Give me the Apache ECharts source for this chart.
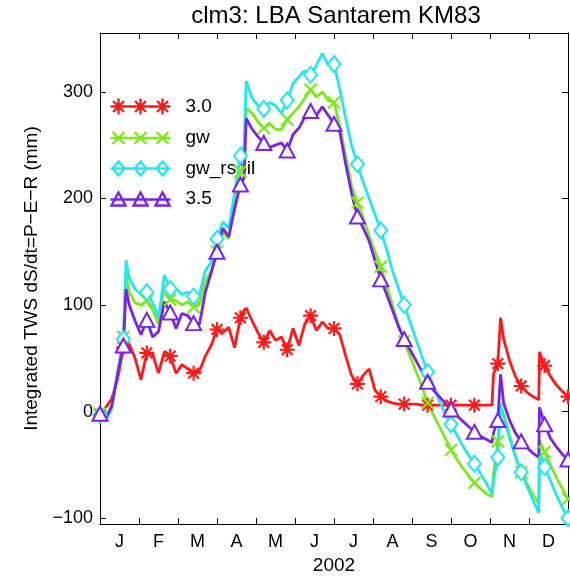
<!DOCTYPE html>
<html><head><meta charset="utf-8">
<script src="https://cdn.jsdelivr.net/npm/echarts@6/dist/echarts.min.js"></script>
<style>html,body{margin:0;padding:0;background:#fff}#c{width:570px;height:580px}</style>
</head><body><div id="c"></div>
<script>
// ---- data ----
const monthLabels = ['J','F','M','A','M','J','J','A','S','O','N','D'];
const yearLabel = '2002';
const seriesNames = ['3.0', 'gw', 'gw_rsoil', '3.5'];
// day of year for each sample (markers every 18.25 days)
const days = [0,4.5625,9.125,13.6875,18.25,20.3,22.8125,27.375,31.9375,36.5,41.0625,45.625,50.1875,54.75,59.3125,63.875,68.4375,73,77.5625,82.125,86.6875,91.25,95.8125,100.375,104.9375,109.5,112.3,114.0625,118.625,123.1875,127.75,132.3125,136.875,141.4375,146,150.5625,155.125,159.6875,164.25,168.8125,173.375,177.9375,182.5,187.0625,191.625,196.1875,200.75,205.3125,209.875,214.4375,219,223.5625,228.125,232.6875,237.25,241.8125,246.375,250.9375,255.5,260.0625,264.625,269.1875,273.75,278.3125,282.875,287.4375,292,296.5625,301.125,305.6875,306.9,310.25,312.4,314.8125,319.375,323.9375,328.5,333.0625,337.625,342.1875,342.8,346.75,351.3125,355.875,360.4375,365];
const v30 = [-3,4,12,30,60,70,63,50,30,55,54,36,56,52,36,44,40,36,38,52,62,77,74,79,60,88,95,97,85,74,65,76,67,70,58,78,62,82,90,76,84,78,78,72,52,34,26,34,40,20,14,10,8,7,7,7,7,6,6,6,6,6,6,6,6,6,6,6,6,6,35,45,88,68,48,33,24,18,14,11,56,43,33,25,19,14];
const vGw = [-2,-7,4,36,70,130,112,102,100,104,95,82,118,105,104,100,103,98,100,122,132,150,168,162,195,225,232,285,280,272,266,270,265,264,274,280,286,294,302,295,300,292,290,268,240,212,196,182,165,150,136,118,100,82,66,52,38,24,8,-3,-14,-25,-36,-45,-53,-60,-67,-72,-77,-80,-58,-28,5,-2,-22,-42,-57,-68,-78,-86,-27,-38,-50,-62,-72,-82];
const vGwRsoil = [-3,-9,3,35,68,142,125,115,110,112,102,88,128,115,115,110,112,108,110,132,140,162,178,172,205,240,248,310,294,287,284,290,287,280,292,308,314,320,316,325,336,325,326,302,275,250,232,215,200,185,170,152,132,116,100,84,68,52,37,24,10,-2,-12,-22,-32,-41,-49,-58,-67,-77,-65,-43,8,-5,-25,-42,-57,-70,-83,-95,-37,-52,-65,-78,-90,-100];
const v35 = [-2,-6,5,35,62,115,100,85,72,86,70,75,103,93,78,92,90,83,82,112,130,150,172,164,190,213,219,275,265,258,252,248,250,252,245,260,266,276,282,278,286,278,270,262,232,205,183,172,160,142,124,110,95,80,68,58,48,38,28,20,14,8,2,-4,-9,-14,-19,-23,-26,-29,-20,-8,35,8,-8,-20,-28,-34,-39,-43,4,-12,-25,-33,-40,-45];
const yMin = -105.6, yMax = 355.2;

// ---- styles ----
const colors = ['#ff1a1a', '#7ee81a', '#22e6f0', '#7a22e6'];
const FONT = 'Liberation Sans, Arial, Helvetica, sans-serif';
const markerSymbols = [
  'path://M0,-8L0,8M-8,0L8,0M-5.7,-5.7L5.7,5.7M-5.7,5.7L5.7,-5.7',
  'path://M-6,-6L6,6M-6,6L6,-6',
  'emptyDiamond',
  'emptyTriangle'
];
const markerSizes = [15, 12, [13, 16], [15, 14]];
const legendIcons = [
  'path://M0,8L60,8M8,0L8,16M2.5,2.5L13.5,13.5M2.5,13.5L13.5,2.5M30,0L30,16M24.5,2.5L35.5,13.5M24.5,13.5L35.5,2.5M52,0L52,16M46.5,2.5L57.5,13.5M46.5,13.5L57.5,2.5',
  'path://M0,8L60,8M2,2L14,14M2,14L14,2M24,2L36,14M24,14L36,2M46,2L58,14M46,14L58,2',
  'path://M0,8L60,8M8,1L14,8L8,15L2,8ZM30,1L36,8L30,15L24,8ZM52,1L58,8L52,15L46,8Z',
  'path://M0,8L60,8M8,1L15,14L1,14ZM30,1L37,14L23,14ZM52,1L59,14L45,14Z'
];
const allValues = [v30, vGw, vGwRsoil, v35];

function isMarker(d) {
  const k = d / 18.25;
  return Math.abs(k - Math.round(k)) < 1e-6;
}

const series = allValues.map((vals, si) => ({
  name: seriesNames[si],
  type: 'line',
  xAxisIndex: 0,
  yAxisIndex: 0,
  data: days.map((d, i) => [d, vals[i]]),
  showAllSymbol: true,
  symbol: (val) => isMarker(val[0]) ? markerSymbols[si] : 'none',
  symbolSize: markerSizes[si],
  lineStyle: { color: colors[si], width: 2.8 },
  itemStyle: { color: colors[si], borderColor: colors[si], borderWidth: 2.2 },
  silent: true,
  z: 3
}));

const chart = echarts.init(document.getElementById('c'), null, { renderer: 'canvas' });
const axisLineStyle = { color: '#000', width: 1 };
chart.setOption({
  animation: false,
  backgroundColor: '#fff',
  textStyle: { fontFamily: FONT },
  grid: { left: 100, top: 33, width: 468, height: 498, containLabel: false },
  graphic: [{
    type: 'text', x: 336, y: 16,
    style: { text: 'clm3: LBA Santarem KM83', font: '24px ' + FONT, fill: '#000', textAlign: 'center', textVerticalAlign: 'middle' }
  }],
  legend: {
    orient: 'vertical', left: 103, top: 91, z: 1,
    itemWidth: 60, itemHeight: 16, itemGap: 11.5,
    selectedMode: false,
    textStyle: { fontSize: 19, color: '#000', fontFamily: FONT, padding: [0, 0, 0, 10] },
    data: seriesNames.map((n, i) => ({
      name: n, icon: legendIcons[i],
      itemStyle: { color: 'none', borderColor: colors[i], borderWidth: 2.4 }
    }))
  },
  xAxis: [
    { type: 'value', min: 0, max: 365, show: false, position: 'bottom' },
    {
      type: 'category', position: 'bottom', data: monthLabels.map((m, i) => String(i)), boundaryGap: true,
      axisLine: { show: true, onZero: false, lineStyle: axisLineStyle },
      axisTick: { show: true, inside: true, length: 6, interval: 0, lineStyle: axisLineStyle },
      axisLabel: { interval: 0, formatter: (v, i) => monthLabels[i], color: '#000', fontSize: 18, margin: 9, fontFamily: FONT },
      splitLine: { show: false },
      name: yearLabel, nameLocation: 'middle', nameGap: 28,
      nameTextStyle: { fontSize: 19, color: '#000', fontFamily: FONT }
    },
    {
      type: 'category', position: 'top', data: monthLabels.map((m, i) => String(i)), boundaryGap: true,
      axisLine: { show: true, onZero: false, lineStyle: axisLineStyle },
      axisTick: { show: true, inside: true, length: 6, interval: 0, lineStyle: axisLineStyle },
      axisLabel: { show: false }, splitLine: { show: false }
    }
  ],
  yAxis: [
    {
      type: 'value', min: yMin, max: yMax, minInterval: 100, maxInterval: 100, position: 'left',
      axisLine: { show: true, onZero: false, lineStyle: axisLineStyle },
      axisTick: { show: true, inside: true, length: 6, lineStyle: axisLineStyle },
      axisLabel: {
        color: '#000', fontSize: 18, margin: 7, fontFamily: FONT,
        formatter: (v) => (Math.abs(v % 100) < 1e-6 ? (v < 0 ? '\u2212' + (-v) : String(v)) : '')
      },
      splitLine: { show: false },
      name: 'Integrated TWS dS/dt=P\u2212E\u2212R (mm)', nameLocation: 'middle', nameGap: 57, nameRotate: 90,
      nameTextStyle: { fontSize: 19, color: '#000', fontFamily: FONT }
    },
    {
      type: 'value', min: yMin, max: yMax, minInterval: 100, maxInterval: 100, position: 'right',
      axisLine: { show: true, onZero: false, lineStyle: axisLineStyle },
      axisTick: { show: true, inside: true, length: 6, lineStyle: axisLineStyle },
      axisLabel: { show: false }, splitLine: { show: false }
    }
  ],
  series: series
});
</script>
</body></html>
